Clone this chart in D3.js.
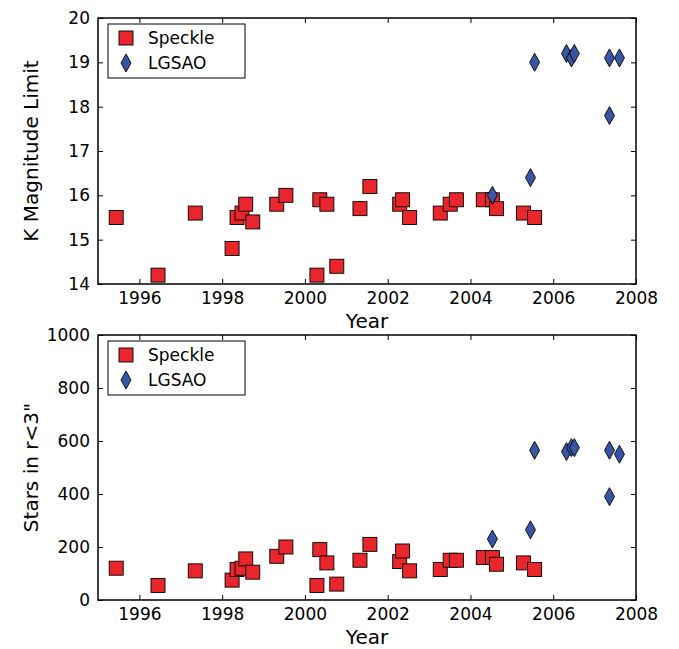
<!DOCTYPE html><html><head><meta charset="utf-8"><script src="https://cdn.jsdelivr.net/npm/d3@7"></script>
<style>body{margin:0;background:#fff}text{font-family:"DejaVu Sans",sans-serif}</style></head><body><svg id="c" width="679" height="649"></svg><script>
const spYear=[1995.44,1996.45,1997.35,1998.24,1998.36,1998.48,1998.57,1998.74,1999.32,1999.54,2000.29,2000.36,2000.53,2000.77,2001.33,2001.57,2002.29,2002.36,2002.53,2003.27,2003.51,2003.66,2004.31,2004.53,2004.63,2005.28,2005.55];
const spK=[15.5,14.2,15.6,14.8,15.5,15.6,15.8,15.4,15.8,16.0,14.2,15.9,15.8,14.4,15.7,16.2,15.8,15.9,15.5,15.6,15.8,15.9,15.9,15.9,15.7,15.6,15.5];
const spN=[120,55,110,75,115,120,155,105,165,200,55,190,140,60,150,210,145,185,110,115,150,150,160,160,135,140,115];
const lgYear=[2004.53,2005.45,2005.55,2006.32,2006.44,2006.51,2007.36,2007.36,2007.6];
const lgK=[16.0,16.4,19.0,19.2,19.1,19.2,19.1,17.8,19.1];
const lgN=[230,265,565,560,575,575,565,390,550];
const xTicks=[1996,1998,2000,2002,2004,2006,2008];
const svg=d3.select("#c");
const L=98,R=636;
const x=d3.scaleLinear().domain([1995,2008]).range([L,R]);
function panel(top,bot,dom,ticks,ylab,sv,lv){
 const y=d3.scaleLinear().domain(dom).range([bot,top]);
 const g=svg.append("g");
 const ax=g.append("g").attr("transform",`translate(0,${bot})`).call(d3.axisBottom(x).tickValues(xTicks).tickFormat(d3.format("d")).tickSize(-5).tickPadding(8));
 const ay=g.append("g").attr("transform",`translate(${L},0)`).call(d3.axisLeft(y).tickValues(ticks).tickFormat(d3.format("d")).tickSize(-5).tickPadding(8));
 const axt=g.append("g").attr("transform",`translate(0,${top})`).call(d3.axisTop(x).tickValues(xTicks).tickSize(-5).tickFormat(""));
 const ayr=g.append("g").attr("transform",`translate(${R},0)`).call(d3.axisRight(y).tickValues(ticks).tickSize(-5).tickFormat(""));
 [ax,ay,axt,ayr].forEach(a=>{a.select(".domain").remove();a.selectAll("text").attr("font-size",17).attr("fill","#000").style("font-family","DejaVu Sans");a.selectAll("line").attr("stroke","#000");});
 g.append("rect").attr("x",L).attr("y",top).attr("width",R-L).attr("height",bot-top).attr("fill","none").attr("stroke","#000").attr("stroke-width",1.5);
 g.append("text").attr("x",(L+R)/2).attr("y",bot+44).attr("text-anchor","middle").attr("font-size",20).text("Year");
 g.append("text").attr("transform",`translate(${L-60},${(top+bot)/2}) rotate(-90)`).attr("text-anchor","middle").attr("font-size",20).text(ylab);
 const sq=(cx,cy)=>g.append("rect").attr("x",cx-7).attr("y",cy-7).attr("width",14).attr("height",14).attr("fill","#e8262c").attr("stroke","#000").attr("stroke-width",0.9);
 const dm=(cx,cy)=>g.append("path").attr("d",`M${cx},${cy-9}L${cx+5},${cy}L${cx},${cy+9}L${cx-5},${cy}Z`).attr("fill","#3a54a4").attr("stroke","#000").attr("stroke-width",0.9);
 spYear.forEach((d,i)=>sq(x(d),y(sv[i])));
 lgYear.forEach((d,i)=>dm(x(d),y(lv[i])));
 g.append("rect").attr("x",108).attr("y",top+6).attr("width",137).attr("height",54).attr("fill","#fff").attr("stroke","#000").attr("stroke-width",1);
 sq(126,top+20); dm(126,top+45);
 g.append("text").attr("x",148).attr("y",top+26).attr("font-size",17).text("Speckle");
 g.append("text").attr("x",148).attr("y",top+51).attr("font-size",17).text("LGSAO");
}
panel(18,284,[14,20],[14,15,16,17,18,19,20],"K Magnitude Limit",spK,lgK);
panel(335,600,[0,1000],[0,200,400,600,800,1000],'Stars in r<3"',spN,lgN);
</script></body></html>
